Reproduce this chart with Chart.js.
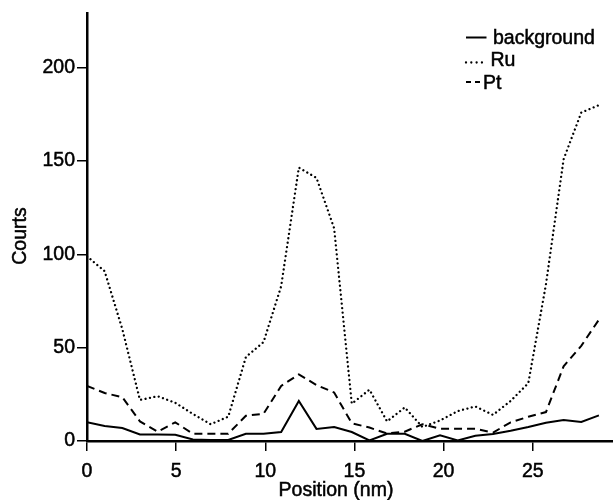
<!DOCTYPE html>
<html><head><meta charset="utf-8">
<script src="https://cdn.jsdelivr.net/npm/chart.js@4"></script>
<style>html,body{margin:0;padding:0;background:#fff}#wrap{width:613px;height:500px}</style>
</head><body><div id="wrap"><canvas id="c" width="613" height="500"></canvas></div>
<script>
// Data
const positions = [0, 0.99, 1.98, 2.97, 3.96, 4.95, 5.94, 6.93, 7.92, 8.91, 9.9, 10.89, 11.88, 12.87, 13.86, 14.85, 15.84, 16.83, 17.82, 18.81, 19.8, 20.79, 21.78, 22.77, 23.76, 24.75, 25.74, 26.73, 27.72, 28.71];
const background = [10, 8, 7, 3.5, 3.5, 3.3, 0.8, 0.5, 0.6, 3.9, 3.9, 4.8, 21.5, 6.5, 7.5, 4.8, 0.3, 3.9, 3.9, 0, 3, 0.3, 2.8, 3.8, 5.5, 7.5, 9.8, 11.3, 10.2, 13.7];
const ru = [99, 91, 60, 22, 24, 20.5, 14.5, 9, 13, 45, 53, 83, 146.5, 141, 114, 20, 27.5, 10.5, 18, 7.5, 11, 16, 18.5, 14, 21.5, 31, 84, 151, 176, 180];
const pt = [29.5, 25.7, 23.5, 10.5, 5, 10, 3.9, 3.9, 3.9, 13.5, 14.6, 29.5, 35.7, 30, 26, 9.5, 7.2, 4, 5, 9, 6.6, 6.6, 6.5, 4.5, 10, 13, 15.5, 40, 51, 65];
const seriesLabels = ['background', 'Ru', 'Pt'];
const xTicks = [0, 5, 10, 15, 20, 25];
const yTicks = [0, 50, 100, 150, 200];
const xTitle = 'Position (nm)';
const yTitle = 'Courts';

const FONT = "'Liberation Sans', Arial, Helvetica, sans-serif";
const FSIZE = 19.5;
const pts = arr => positions.map((x, i) => ({x: x, y: arr[i]}));

// legend layout (styling only)
const legendLayout = [
  {lineY: 37.5, lineX0: 466, lineX1: 486.5, textX: 493, textY: 38.5},
  {lineY: 62.5, lineX0: 466, lineX1: 487, textX: 490.5, textY: 60.5},
  {lineY: 82, lineX0: 466, lineX1: 480, textX: 483, textY: 84}
];

function strokeFill(ctx, t, x, y) {
  ctx.strokeText(t, x, y);
  ctx.fillText(t, x, y);
}

const titlesAndLegend = {
  id: 'titlesAndLegend',
  afterDraw(chart) {
    const ctx = chart.ctx;
    ctx.save();
    ctx.fillStyle = '#000';
    ctx.strokeStyle = '#000';
    ctx.lineWidth = 0.5;
    ctx.font = FSIZE + 'px ' + FONT;
    ctx.textAlign = 'center';
    ctx.textBaseline = 'middle';
    strokeFill(ctx, xTitle, 336, 490.5);
    ctx.save();
    ctx.translate(21, 236);
    ctx.rotate(-Math.PI / 2);
    strokeFill(ctx, yTitle, 0, 0);
    ctx.restore();
    chart.data.datasets.forEach((ds, i) => {
      const L = legendLayout[i];
      ctx.save();
      ctx.lineWidth = ds.borderWidth;
      ctx.lineCap = ds.borderCapStyle || 'butt';
      ctx.setLineDash(ds.legendDash || ds.borderDash || []);
      ctx.beginPath();
      ctx.moveTo(L.lineX0, L.lineY);
      ctx.lineTo(L.lineX1, L.lineY);
      ctx.stroke();
      ctx.restore();
      ctx.textAlign = 'left';
      strokeFill(ctx, ds.label, L.textX, L.textY);
    });
    ctx.restore();
  }
};

const tickFont = {family: FONT, size: FSIZE};
const axisCommon = {
  type: 'linear',
  border: {display: true, color: '#000', width: 2.5},
  grid: {display: true, drawOnChartArea: false, drawTicks: true, tickLength: 10, color: '#000', lineWidth: 1.5},
};

new Chart(document.getElementById('c'), {
  type: 'line',
  data: {
    datasets: [
      {label: seriesLabels[0], data: pts(background), borderColor: '#000', borderWidth: 2, pointRadius: 0, borderDash: [], tension: 0},
      {label: seriesLabels[1], data: pts(ru), borderColor: '#000', borderWidth: 2.3, pointRadius: 0, borderDash: [0.01, 4.5], borderCapStyle: 'round', legendDash: [0.01, 5.3], tension: 0},
      {label: seriesLabels[2], data: pts(pt), borderColor: '#000', borderWidth: 2, pointRadius: 0, borderDash: [8, 5], legendDash: [5, 4], tension: 0}
    ]
  },
  options: {
    responsive: false,
    animation: false,
    devicePixelRatio: 1,
    layout: {padding: {top: 12, right: 0, left: 0, bottom: 0}},
    plugins: {legend: {display: false}, tooltip: {enabled: false}},
    scales: {
      x: Object.assign({}, axisCommon, {
        min: 0, max: 29.5,
        afterBuildTicks: s => { s.ticks = xTicks.map(v => ({value: v})); },
        afterFit: s => { s.height = 59; },
        ticks: {color: '#000', font: tickFont, autoSkip: false, maxRotation: 0, padding: 9, textStrokeColor: '#000', textStrokeWidth: 0.5}
      }),
      y: Object.assign({}, axisCommon, {
        min: 0, max: 229,
        afterBuildTicks: s => { s.ticks = yTicks.map(v => ({value: v})); },
        afterFit: s => { s.width = 87; },
        ticks: {color: '#000', font: tickFont, autoSkip: false, padding: 2, textStrokeColor: '#000', textStrokeWidth: 0.5}
      })
    }
  },
  plugins: [titlesAndLegend]
});
</script>
</body></html>
